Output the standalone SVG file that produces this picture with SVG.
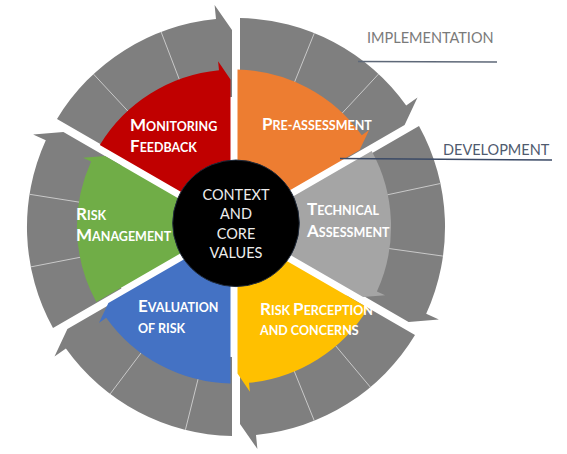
<svg xmlns="http://www.w3.org/2000/svg" width="567" height="454" viewBox="0 0 567 454">
<style>
.ring{fill:#7F7F7F}
.div{stroke:#C9C9C9;stroke-width:1;fill:none}
.lbl{font-family:Lato,"Liberation Sans",sans-serif;font-weight:bold;fill:#FFFFFF;font-size:12.5px}
.big{font-size:17px}
.ctr{font-family:Lato,"Liberation Sans",sans-serif;fill:#EDEDED;font-size:14.5px;text-anchor:middle}
.phase{font-family:Lato,"Liberation Sans",sans-serif;font-size:14.5px}
.lead{fill:none;stroke-width:1.6}
</style>
<rect width="567" height="454" fill="#FFFFFF"/>
<g id="ring">
  <g id="ring-1"><path class="ring" d="M57,119 A209,209 0 0 1 216,19 L214.6,5 L232,30 L232,97 A130,130 0 0 0 125.4,158.5 Z"/></g>
  <g id="ring-2"><path class="ring" d="M240,18 A209,209 0 0 1 406.2,105.6 L417.5,97.5 L404.6,125 L346.6,158.5 A130,130 0 0 0 240,97 Z"/></g>
  <g id="ring-3"><path class="ring" d="M419,126 A209,209 0 0 1 426.2,313.7 L438.9,319.5 L408.6,322 L350.6,288.5 A130,130 0 0 0 350.6,165.5 Z"/></g>
  <g id="ring-4"><path class="ring" d="M415,335 A209,209 0 0 1 256,435 L257.4,449 L240,424 L240,357 A130,130 0 0 0 346.6,295.5 Z"/></g>
  <g id="ring-5"><path class="ring" d="M232,436 A209,209 0 0 1 65.9,348.4 L54.5,356.5 L67.4,329 L125.4,295.5 A130,130 0 0 0 232,357 Z"/></g>
  <g id="ring-6"><path class="ring" d="M53,328 A209,209 0 0 1 45.8,140.3 L33.1,134.5 L63.4,132 L121.4,165.5 A130,130 0 0 0 121.4,288.5 Z"/></g>
  <g id="ring-dividers">
    <line class="div" x1="133.7" y1="117.3" x2="93.5" y2="74.1"/>
    <line class="div" x1="182.2" y1="87" x2="161.1" y2="31.9"/>
    <line class="div" x1="292.2" y1="87.9" x2="314.3" y2="33.2"/>
    <line class="div" x1="338.3" y1="117.3" x2="378.5" y2="74.1"/>
    <line class="div" x1="382.7" y1="195.8" x2="440.4" y2="183.5"/>
    <line class="div" x1="384.5" y1="247.9" x2="443" y2="256.1"/>
    <line class="div" x1="332.4" y1="341.9" x2="370.3" y2="387.1"/>
    <line class="div" x1="292.2" y1="366.1" x2="314.3" y2="420.8"/>
    <line class="div" x1="199.7" y1="372.5" x2="185.4" y2="429.8"/>
    <line class="div" x1="145.7" y1="346.8" x2="110.2" y2="393.9"/>
    <line class="div" x1="88.8" y1="255.6" x2="30.8" y2="266.9"/>
    <line class="div" x1="87.8" y1="203.5" x2="29.6" y2="194.3"/>
  </g>
</g>
<g id="monitoring">
  <path fill="#C00000" d="M227.1,218.5 L99.8,145 A157,157 0 0 1 219,70.2 L218.1,61.3 L230.5,79.5 L230.5,216.5 Z"/>
  <text class="lbl" x="130" y="130.5"><tspan class="big">M</tspan>ONITORING</text>
  <text class="lbl" x="130" y="152"><tspan class="big">F</tspan>EEDBACK</text>
</g>
<g id="pre-assessment">
  <path fill="#ED7D31" d="M237.5,216.5 L237.5,69.5 A157,157 0 0 1 361.8,135.3 L369.1,130.1 L359.6,150 L240.9,218.5 Z"/>
  <text class="lbl" x="262" y="130"><tspan class="big">P</tspan>RE-ASSESSMENT</text>
</g>
<g id="technical-assessment">
  <path fill="#A5A5A5" d="M244.4,224.5 L371.7,151 A157,157 0 0 1 376.9,291.6 L385.1,295.3 L363.1,297 L244.4,228.5 Z"/>
  <text class="lbl" x="307" y="215"><tspan class="big">T</tspan>ECHNICAL</text>
  <text class="lbl" x="307" y="237"><tspan class="big">A</tspan>SSESSMENT</text>
</g>
<g id="risk-perception">
  <path fill="#FFC000" d="M240.9,234.5 L368.2,308 A157,157 0 0 1 249,382.8 L249.9,391.7 L237.5,373.5 L237.5,236.5 Z"/>
  <text class="lbl" x="260" y="315"><tspan class="big">R</tspan>ISK <tspan class="big">P</tspan>ERCEPTION</text>
  <text class="lbl" x="260" y="335">AND CONCERNS</text>
</g>
<g id="evaluation">
  <path fill="#4472C4" d="M230.5,236.5 L230.5,383.5 A157,157 0 0 1 106.2,317.7 L98.9,322.9 L108.4,303 L227.1,234.5 Z"/>
  <text class="lbl" x="138" y="312"><tspan class="big">E</tspan>VALUATION</text>
  <text class="lbl" x="138" y="333">OF RISK</text>
</g>
<g id="risk-management">
  <path fill="#70AD47" d="M223.6,228.5 L96.3,302 A157,157 0 0 1 91.1,161.4 L83,157.7 L105,156 L223.6,224.5 Z"/>
  <text class="lbl" x="76" y="220"><tspan class="big">R</tspan>ISK</text>
  <text class="lbl" x="76" y="241"><tspan class="big">M</tspan>ANAGEMENT</text>
</g>
<g id="context">
  <circle cx="236" cy="223.3" r="63.3" fill="#000000" stroke="#1F2A3A" stroke-width="1"/>
  <text class="ctr" x="236" y="200">CONTEXT</text>
  <text class="ctr" x="236" y="219">AND</text>
  <text class="ctr" x="236" y="238.5">CORE</text>
  <text class="ctr" x="236" y="257.5">VALUES</text>
</g>
<g id="implementation">
  <text class="phase" x="367" y="42.7" fill="#7A7A7A">IMPLEMENTATION</text>
</g>
<g id="development">
  <text class="phase" x="443" y="155" fill="#4F5A6E">DEVELOPMENT</text>
</g>
<g id="connectors">
  <line class="lead" x1="358" y1="61.5" x2="497" y2="62" stroke="#5E6878"/>
  <line class="lead" x1="340" y1="158.5" x2="552" y2="160" stroke="#3B4A66"/>
</g>
</svg>
